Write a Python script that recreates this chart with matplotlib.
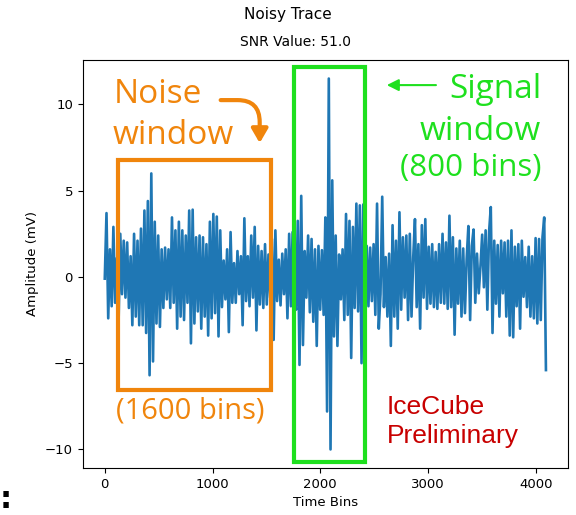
import numpy as np
import matplotlib
matplotlib.use('Agg')
import matplotlib.pyplot as plt
from matplotlib.patches import Rectangle, FancyArrowPatch

# amplitude (mV), roughly every 16 bins
amp = [-0.1, 3.7, -2.4, 1.6, -1.7, 2.9, -1.5, 1.1, -2.7, 2.5,
       -1.0, 2.1, -1.2, 2.0, -1.8, 1.2, -2.8, 2.5, -2.3, 2.1,
       -2.8, 2.8, -2.8, 3.85, -3.25, 4.4, -5.7, 6.0, -4.9, 3.2,
       -2.7, 2.4, -2.9, 1.6, -1.8, 1.7, -1.3, 1.6, -1.8, 3.45,
       -1.5, 2.7, -3.0, 3.2, -2.3, 2.7, -2.5, 2.4, -1.5, 3.85,
       -3.85, 3.9, -2.7, 2.3, -2.0, 2.4, -3.0, 2.3, -2.3, 1.9,
       -3.4, 3.2, -2.4, 3.65, -2.1, 3.5, -3.45, 2.7, -1.75, 0.95,
       -1.3, 1.6, -3.2, 2.6, -1.5, 0.8, -1.5, 1.5, -1.0, 1.2,
       -2.8, 3.4, -1.4, 1.2, -1.7, 2.4, -1.2, 2.9, -3.1, 1.8,
       -1.6, 1.5, -1.8, 1.9, -1.6, 1.3, -1.2, 2.2, -3.65, 2.7,
       -1.4, 1.0, -1.65, 1.35, -1.0, 1.6, -2.4, 2.5, -1.7, 2.6,
       -1.3, -1.9, 3.25, -5.1, 4.7, -3.95, 1.5, -1.2, 2.4, -2.05,
       2.2, -2.6, 1.6, -4.0, 1.8, -1.9, 1.55, -2.2, 3.45, -7.8,
       11.5, -10.0, 5.6, -3.45, 2.4, -4.0, 1.3, -1.3, 1.6, -2.5,
       3.65, -2.2, 3.25, -4.7, 2.9, -1.8, 4.25, -2.0, 4.15, -5.0,
       4.2, -1.5, 1.8, -1.7, 1.7, -1.4, 1.9, -2.2, 4.25, -3.0,
       -1.0, 4.65, -1.75, 1.15, -2.3, 1.35, -4.0, 3.0, -2.3, 2.1,
       -3.0, 3.75, -1.9, 2.3, -1.2, 2.4, -2.5, 2.5, -2.3, 1.15,
       3.35, -1.75, 1.9, -3.0, 3.0, -1.2, 3.35, -1.85, 1.75, -1.55,
       1.9, -1.75, 1.45, -1.85, 1.9, -1.5, 2.5, -1.55, 2.0, -1.85,
       3.55, -1.75, 2.3, -3.35, 1.65, -1.55, 2.1, -2.3, 1.65, -2.1,
       1.05, 2.95, -2.5, 1.8, 2.75, -1.5, 1.35, -0.95, 0.6, 2.45,
       -0.6, 2.7, -1.9, 2.6, 4.05, -3.25, 2.1, -1.55, 1.85, -2.3,
       2.1, -0.95, 2.0, -2.3, 2.1, -3.4, 2.7, -3.5, 1.75, -1.7,
       1.9, -3.0, 2.1, -1.15, 1.15, -1.75, 1.75, -2.3, 1.2, -2.4,
       2.25, -2.7, 2.2, -2.5, 2.3, 3.45, -5.4]
bins = np.linspace(0, 4095, len(amp))

# windows drawn on top (bins, mV)
noise_win = [120, 1540, -6.54, 6.79]
signal_win = [1761, 2414, -10.75, 12.16]

orange = '#F0850C'
green = '#1EE01E'
red = '#C80000'

fig = plt.figure(figsize=(5.76, 5.15), dpi=100)
ax = fig.add_axes([0.1436, 0.0913, 0.8425, 0.7922])
ax.plot(bins, amp, color='#1f77b4', lw=1.9)
xl = ax.get_xlim()
yl = ax.get_ylim()

ax.set_xlabel('Time Bins', fontsize=9.5)
ax.set_ylabel('Amplitude (mV)', fontsize=9.5)
ax.tick_params(labelsize=9.5)
ax.set_xticks([0, 1000, 2000, 3000, 4000])
ax.set_yticks([-10, -5, 0, 5, 10])

fig.text(0.5, 0.986, 'Noisy Trace', ha='center', va='top', fontsize=11)
fig.text(0.5135, 0.91, 'SNR Value: 51.0', ha='center', va='baseline', fontsize=10)

# noise window box + labels
x0, x1, y0, y1 = noise_win
ax.add_patch(Rectangle((x0, y0), x1 - x0, y1 - y0, fill=False, ec=orange,
                       lw=3, clip_on=False, zorder=5))
ax.text(80, 10.08, 'Noise', color=orange, fontsize=24, family='Open Sans',
        ha='left', va='baseline')
ax.text(72, 7.72, 'window', color=orange, fontsize=24, family='Open Sans',
        ha='left', va='baseline')
ax.text(796, -7.8, '(1600 bins)', color=orange, fontsize=21, family='Open Sans',
        ha='center', va='center')
ax.add_patch(FancyArrowPatch((1050, 10.25), (1438, 7.6),
                             connectionstyle='angle,angleA=0,angleB=90,rad=22',
                             arrowstyle='-|>,head_length=0.6,head_width=0.35',
                             mutation_scale=14, color=orange, lw=3, zorder=6))

# signal window box + labels
x0, x1, y0, y1 = signal_win
ax.add_patch(Rectangle((x0, y0), x1 - x0, y1 - y0, fill=False, ec=green,
                       lw=3, clip_on=False, zorder=5))
ax.text(4050, 10.37, 'Signal', color=green, fontsize=24, family='Open Sans',
        ha='right', va='baseline')
ax.text(4050, 7.94, 'window', color=green, fontsize=24, family='Open Sans',
        ha='right', va='baseline')
ax.text(4050, 6.33, '(800 bins)', color=green, fontsize=22.5, family='Open Sans',
        ha='right', va='center')
ax.add_patch(FancyArrowPatch((3100, 11.12), (2592, 11.12),
                             arrowstyle='-|>,head_length=0.5,head_width=0.25',
                             mutation_scale=14, color=green, lw=1.5, zorder=6))

ax.text(2619, -7.92, 'IceCube', color=red, fontsize=19,
        family='Liberation Sans', ha='left', va='baseline')
ax.text(2619, -9.6, 'Preliminary', color=red, fontsize=19,
        family='Liberation Sans', ha='left', va='baseline')

fig.text(0.0, 0.03, ':', fontsize=22, fontweight='bold', ha='left', va='center')

ax.set_xlim(xl)
ax.set_ylim(yl)

fig.savefig('out.png', dpi=100)
